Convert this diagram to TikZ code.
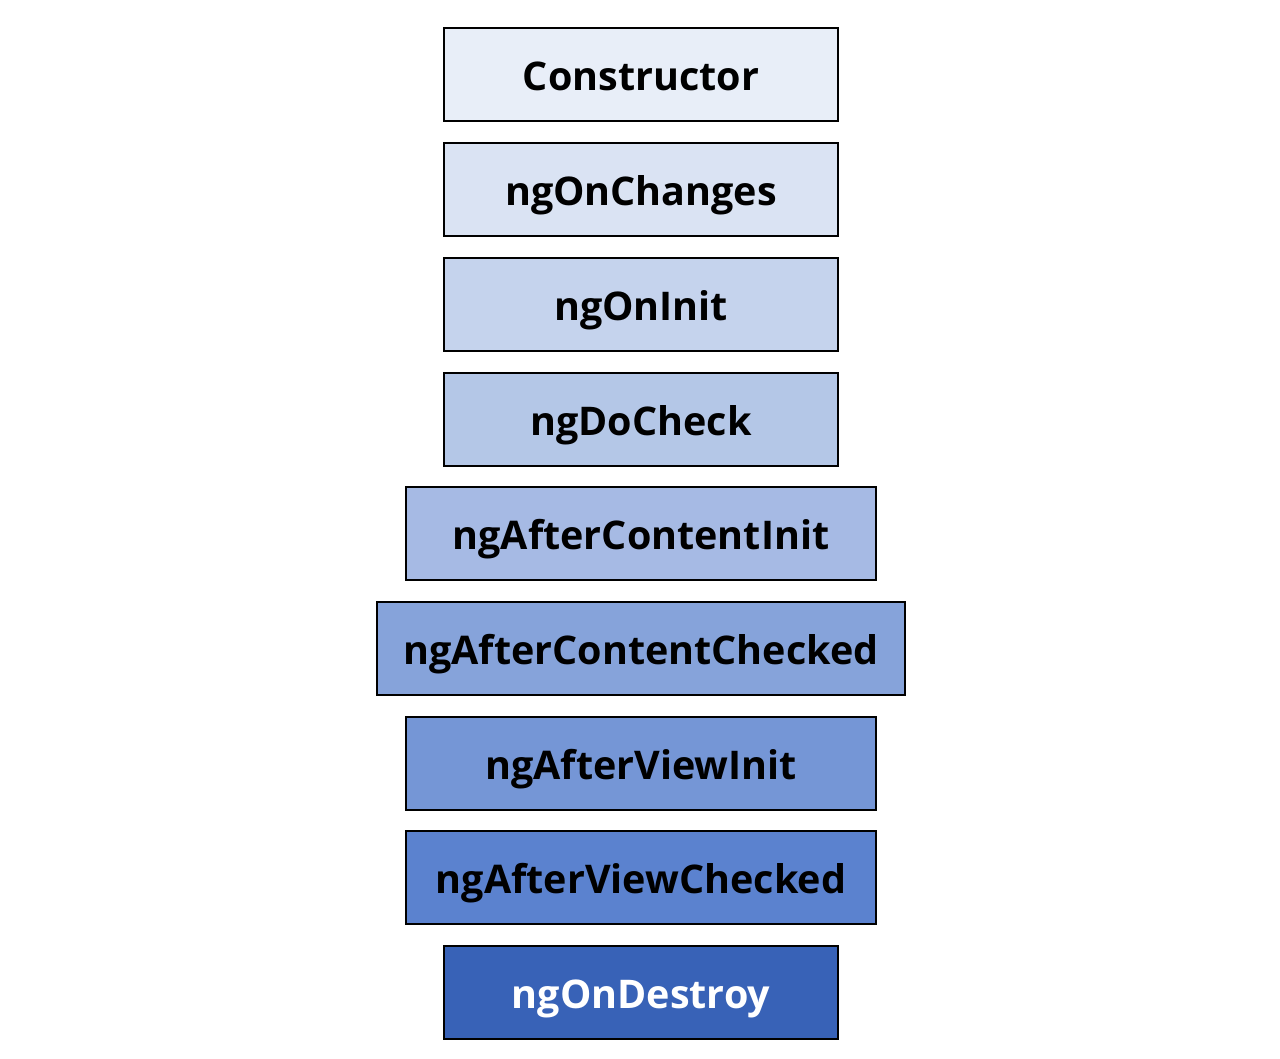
\documentclass[tikz,border=0pt]{standalone}
\usepackage{fontspec}
\setmainfont{Open Sans}
\begin{document}
\begin{tikzpicture}[x=1pt,y=-1pt,
  hook/.style={draw=black,line width=2pt,inner sep=0pt,font=\fontsize{39.5}{44}\selectfont\bfseries,text=black,anchor=north west,
    text height=31pt,text depth=0pt},
]
\useasboundingbox (0,0) rectangle (1280,1058);
\definecolor{c1}{HTML}{E8EEF8}
\definecolor{c2}{HTML}{DAE3F3}
\definecolor{c3}{HTML}{C5D3ED}
\definecolor{c4}{HTML}{B4C7E7}
\definecolor{c5}{HTML}{A6BAE4}
\definecolor{c6}{HTML}{86A3DA}
\definecolor{c7}{HTML}{7596D6}
\definecolor{c8}{HTML}{5B82CF}
\definecolor{c9}{HTML}{3862B7}
\node[hook,fill=c1,minimum width=394pt,minimum height=93pt] (n1) at (443,27) {Constructor};
\node[hook,fill=c2,minimum width=394pt,minimum height=93pt] (n2) at (443,142) {ngOnChanges};
\node[hook,fill=c3,minimum width=394pt,minimum height=93pt] (n3) at (443,257) {ngOnInit};
\node[hook,fill=c4,minimum width=394pt,minimum height=93pt] (n4) at (443,372) {ngDoCheck};
\node[hook,fill=c5,minimum width=470pt,minimum height=93pt] (n5) at (405,486) {ngAfterContentInit};
\node[hook,fill=c6,minimum width=528pt,minimum height=93pt] (n6) at (376,601) {ngAfterContentChecked};
\node[hook,fill=c7,minimum width=470pt,minimum height=93pt] (n7) at (405,716) {ngAfterViewInit};
\node[hook,fill=c8,minimum width=470pt,minimum height=93pt] (n8) at (405,830) {ngAfterViewChecked};
\node[hook,fill=c9,text=white,minimum width=394pt,minimum height=93pt] (n9) at (443,945) {ngOnDestroy};
\end{tikzpicture}
\end{document}
